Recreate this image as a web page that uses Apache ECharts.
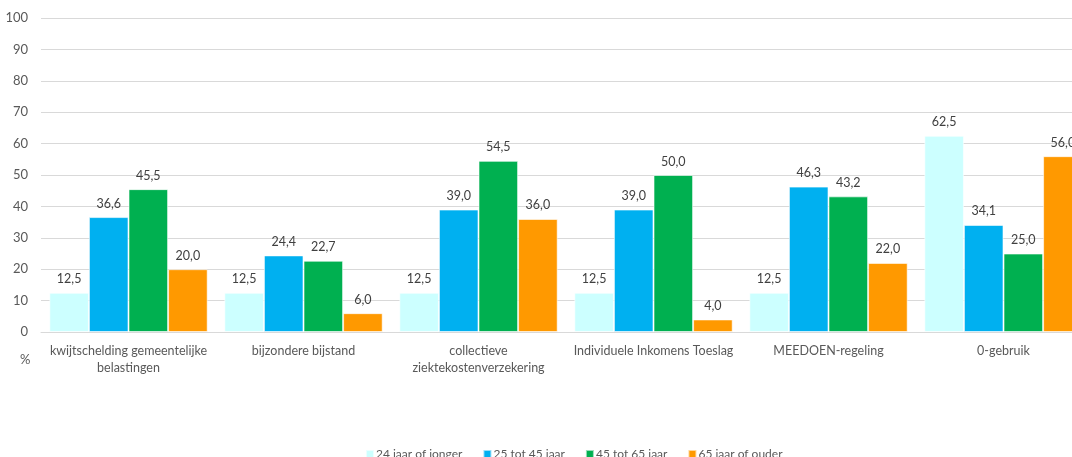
<!DOCTYPE html>
<html>
<head>
<meta charset="utf-8">
<script src="https://cdn.jsdelivr.net/npm/echarts@6/dist/echarts.min.js"></script>
<style>
  html, body { margin: 0; padding: 0; background: #fff; }
  #chart { width: 1072px; height: 457px; }
</style>
</head>
<body>
<div id="chart"></div>
<script>
// Regelingen (categorieën op de x-as)
const categories = [
  'kwijtschelding gemeentelijke\nbelastingen',
  'bijzondere bijstand',
  'collectieve\nziektekostenverzekering',
  'Individuele Inkomens Toeslag',
  'MEEDOEN-regeling',
  '0-gebruik'
];

// Percentages per leeftijdsgroep
const age24 = [12.5, 12.5, 12.5, 12.5, 12.5, 62.5];
const age25to45 = [36.6, 24.4, 39.0, 39.0, 46.3, 34.1];
const age45to65 = [45.5, 22.7, 54.5, 50.0, 43.2, 25.0];
const age65plus = [20.0, 6.0, 36.0, 4.0, 22.0, 56.0];

const seriesNames = ['24 jaar of jonger', '25 tot 45 jaar', '45 tot 65 jaar', '65 jaar of ouder'];
const seriesColors = ['#CCFFFF', '#00B0F0', '#00B050', '#FF9900'];
const seriesData = [age24, age25to45, age45to65, age65plus];

const FONT = 'Lato, "Open Sans", sans-serif';

const chart = echarts.init(document.getElementById('chart'), null, { renderer: 'canvas' });

chart.setOption({
  animation: false,
  textStyle: { fontFamily: FONT },
  // the plot area runs past the right edge of the canvas
  grid: { left: 41, width: 1050, top: 18, bottom: 125, containLabel: false, outerBoundsMode: 'none' },
  legend: {
    top: 443,
    left: 360,
    itemWidth: 8,
    itemHeight: 8,
    itemGap: 20,
    icon: 'rect',
    textStyle: { fontFamily: FONT, fontSize: 12, color: '#595959', padding: [0, 0, 0, -3] },
    data: seriesNames
  },
  xAxis: {
    type: 'category',
    data: categories,
    axisLine: { lineStyle: { color: '#D9D9D9', width: 1 } },
    axisTick: { show: false },
    axisLabel: {
      fontFamily: FONT,
      fontSize: 12.5,
      color: '#595959',
      lineHeight: 17,
      margin: 10,
      interval: 0
    }
  },
  yAxis: {
    type: 'value',
    min: 0,
    max: 100,
    interval: 10,
    axisLine: { show: false },
    axisTick: { show: false },
    splitLine: { lineStyle: { color: '#D9D9D9', width: 1 } },
    axisLabel: { fontFamily: FONT, fontSize: 13, color: '#595959', margin: 13 }
  },
  graphic: [{
    type: 'text',
    left: 20,
    top: 353,
    style: { text: '%', fontFamily: FONT, fontSize: 13, fill: '#595959' }
  }],
  series: seriesData.map((values, i) => ({
    name: seriesNames[i],
    type: 'bar',
    data: values,
    barGap: '0%',
    barCategoryGap: '9.5%',
    itemStyle: { color: seriesColors[i], borderColor: 'rgba(255,255,255,0.6)', borderWidth: 1 },
    label: {
      show: true,
      position: 'top',
      distance: 7,
      fontFamily: FONT,
      fontSize: 12.5,
      color: '#404040',
      formatter: p => p.value.toFixed(1).replace('.', ',')
    }
  }))
});
</script>
</body>
</html>
